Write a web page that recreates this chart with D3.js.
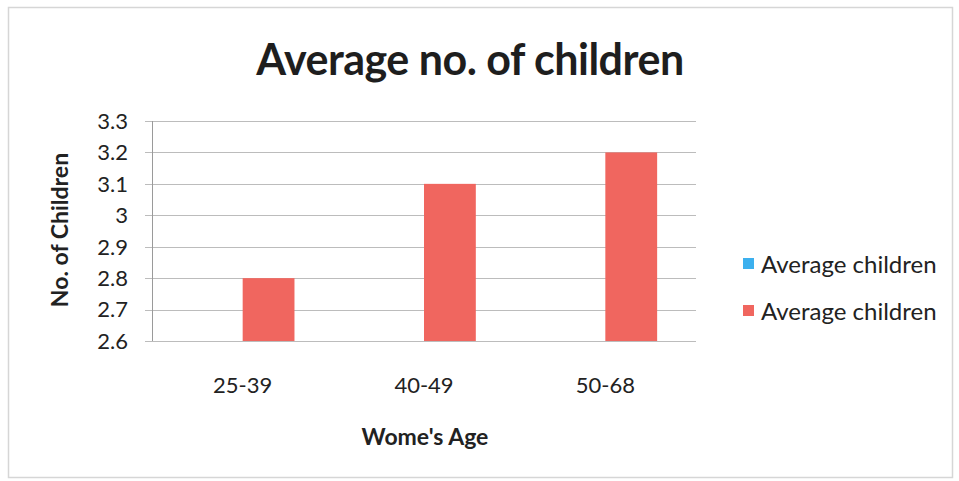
<!DOCTYPE html>
<html>
<head>
<meta charset="utf-8">
<script src="https://cdn.jsdelivr.net/npm/d3@7"></script>
<style>
  html, body { margin: 0; padding: 0; background: #fff; }
  svg { display: block; }
</style>
</head>
<body>
<svg id="chart" width="959" height="481"></svg>
<script>
// Age groups on the x axis
const categories = ["25-39", "40-49", "50-68"];
// Two legend series share the same name; the first has no values drawn
const seriesNames = ["Average children", "Average children"];
const seriesBlue = [null, null, null];
const seriesRed = [2.8, 3.1, 3.2];
// Y axis ticks
const yTicks = [2.6, 2.7, 2.8, 2.9, 3.0, 3.1, 3.2, 3.3];
const yTickLabels = ["2.6", "2.7", "2.8", "2.9", "3", "3.1", "3.2", "3.3"];

const colors = ["#3cb0ee", "#f0665f"];
const fontFamily = "Lato, 'Open Sans', 'DejaVu Sans', sans-serif";

const svg = d3.select("#chart");

// Outer frame
svg.append("rect")
  .attr("x", 8.5).attr("y", 7.5)
  .attr("width", 944).attr("height", 470)
  .attr("fill", "#fff")
  .attr("stroke", "#d6d6d6")
  .attr("stroke-width", 1.5);

const plot = { left: 152, right: 696, top: 121, bottom: 341 };

const y = d3.scaleLinear().domain([2.6, 3.3]).range([plot.bottom, plot.top]);

// Category bands; gap width 150% with two series per group
const x0 = d3.scaleBand().domain(categories).range([plot.left, plot.right]).padding(0);
const gapRatio = 1.5;
const x1 = d3.scaleBand().domain([0, 1])
  .range([0, x0.bandwidth() * 2 / (2 + gapRatio)]).padding(0);
const groupOffset = (x0.bandwidth() - x1.range()[1]) / 2;

// Gridlines with tick stubs on the left
svg.append("g").selectAll("line").data(yTicks).join("line")
  .attr("x1", plot.left - 7).attr("x2", plot.right)
  .attr("y1", d => Math.round(y(d)) + 0.5).attr("y2", d => Math.round(y(d)) + 0.5)
  .attr("stroke", "#bcbcbc").attr("stroke-width", 1);

// Vertical axis line
svg.append("line")
  .attr("x1", plot.left + 0.5).attr("x2", plot.left + 0.5)
  .attr("y1", plot.top).attr("y2", plot.bottom)
  .attr("stroke", "#9a9a9a").attr("stroke-width", 1);

// Y tick labels
svg.append("g").selectAll("text").data(yTicks).join("text")
  .attr("x", 128).attr("y", d => y(d))
  .attr("dy", "0.36em")
  .attr("text-anchor", "end")
  .attr("font-family", fontFamily)
  .attr("font-size", 22)
  .attr("fill", "#222")
  .text((d, i) => yTickLabels[i]);

// Bars
const seriesData = [seriesBlue, seriesRed];
seriesData.forEach((vals, si) => {
  svg.append("g").selectAll("rect")
    .data(categories.map((c, i) => ({ c, v: vals[i] })).filter(d => d.v != null))
    .join("rect")
    .attr("x", d => x0(d.c) + groupOffset + x1(si))
    .attr("y", d => y(d.v))
    .attr("width", x1.bandwidth())
    .attr("height", d => y(2.6) - y(d.v))
    .attr("fill", colors[si]);
});

// X category labels
svg.append("g").selectAll("text").data(categories).join("text")
  .attr("x", d => x0(d) + x0.bandwidth() / 2)
  .attr("y", 385)
  .attr("dy", "0.36em")
  .attr("text-anchor", "middle")
  .attr("font-family", fontFamily)
  .attr("font-size", 22)
  .attr("fill", "#222")
  .text(d => d);

// Title
svg.append("text")
  .attr("x", 470).attr("y", 75)
  .attr("text-anchor", "middle")
  .attr("font-family", fontFamily)
  .attr("font-weight", "bold")
  .attr("font-size", 43)
  .attr("letter-spacing", -0.5)
  .attr("fill", "#1e1e1e")
  .text("Average no. of children");

// Axis titles
svg.append("text")
  .attr("transform", "translate(68,230) rotate(-90)")
  .attr("text-anchor", "middle")
  .attr("font-family", fontFamily)
  .attr("font-weight", "bold")
  .attr("font-size", 23)
  .attr("fill", "#222")
  .text("No. of Children");

svg.append("text")
  .attr("x", 425).attr("y", 437)
  .attr("dy", "0.36em")
  .attr("text-anchor", "middle")
  .attr("font-family", fontFamily)
  .attr("font-weight", "bold")
  .attr("font-size", 23)
  .attr("fill", "#222")
  .text("Wome's Age");

// Legend
const legend = svg.append("g");
seriesNames.forEach((name, i) => {
  const ly = 264 + i * 47;
  legend.append("rect")
    .attr("x", 743).attr("y", ly - 6)
    .attr("width", 11).attr("height", 11)
    .attr("fill", colors[i]);
  legend.append("text")
    .attr("x", 761).attr("y", ly)
    .attr("dy", "0.36em")
    .attr("font-family", fontFamily)
    .attr("font-size", 24)
    .attr("fill", "#222")
    .text(name);
});
</script>
</body>
</html>
